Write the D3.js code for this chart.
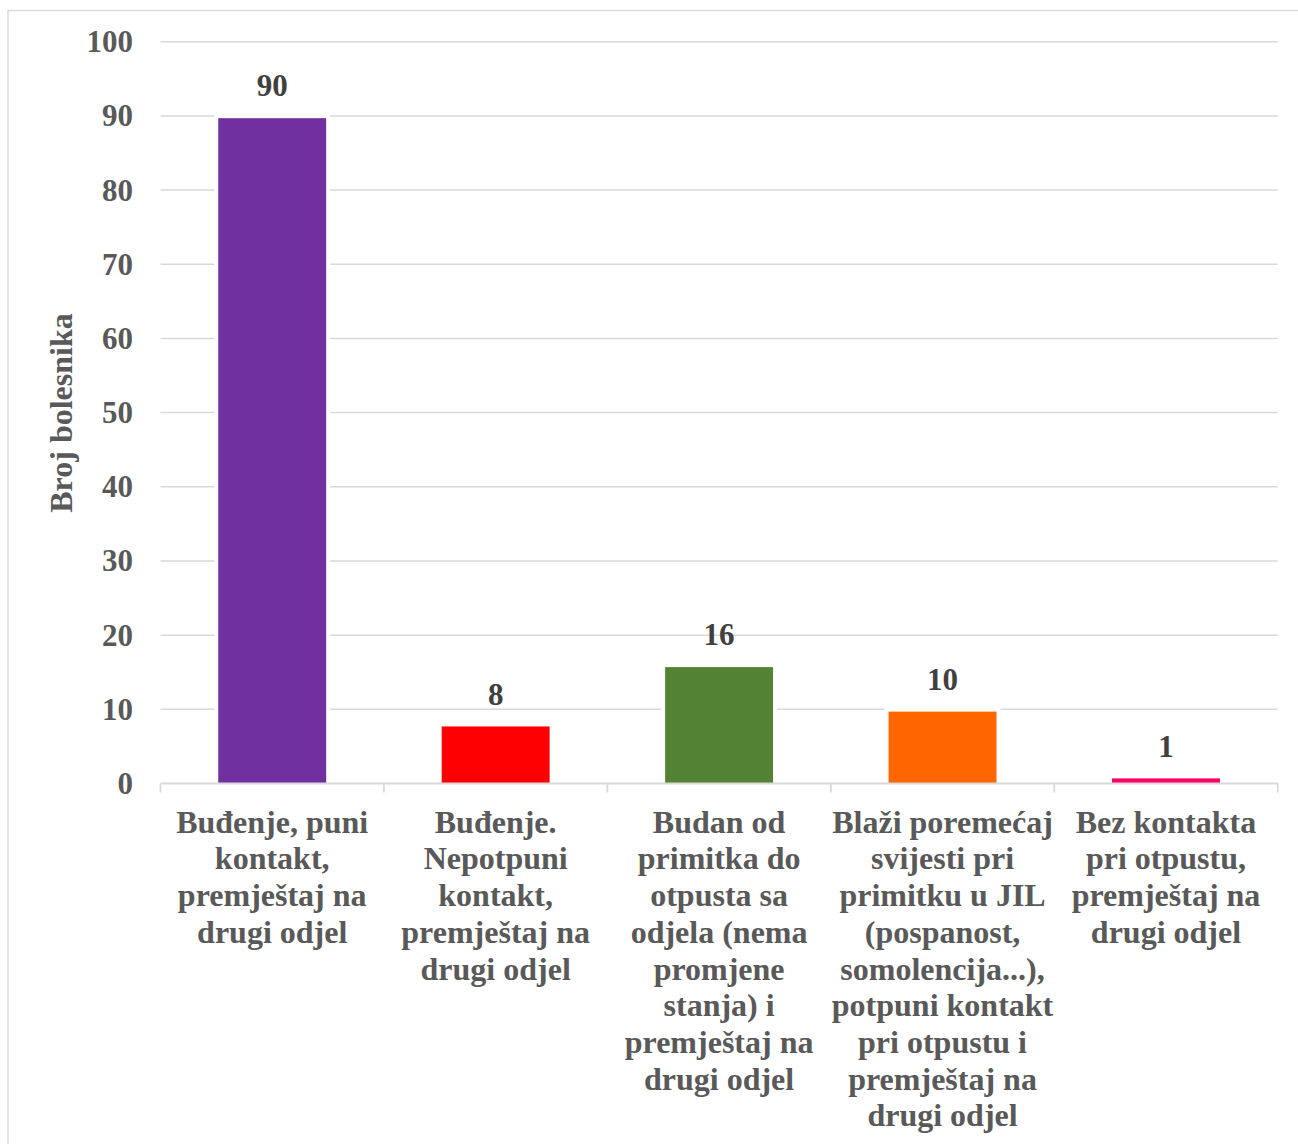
<!DOCTYPE html>
<html>
<head>
<meta charset="utf-8">
<script src="https://cdn.jsdelivr.net/npm/d3@7"></script>
<style>
  html, body { margin: 0; padding: 0; background: #fff; }
  svg { display: block; }
  text { font-family: "Liberation Serif", "Times New Roman", serif; font-weight: bold; }
</style>
</head>
<body>
<svg id="chart" width="1298" height="1144"></svg>
<script>
// ── Data ─────────────────────────────────────────────────────────────
const categories = [
  ['Buđenje, puni', 'kontakt,', 'premještaj na', 'drugi odjel'],
  ['Buđenje.', 'Nepotpuni', 'kontakt,', 'premještaj na', 'drugi odjel'],
  ['Budan od', 'primitka do', 'otpusta sa', 'odjela (nema', 'promjene', 'stanja) i', 'premještaj na', 'drugi odjel'],
  ['Blaži poremećaj', 'svijesti pri', 'primitku u JIL', '(pospanost,', 'somolencija...),', 'potpuni kontakt', 'pri otpustu i', 'premještaj na', 'drugi odjel'],
  ['Bez kontakta', 'pri otpustu,', 'premještaj na', 'drugi odjel'],
];
const values = [90, 8, 16, 10, 1];
const barColors = ['#7030a0', '#ff0000', '#548235', '#ff6600', '#ff0066'];
const yTicks = [0, 10, 20, 30, 40, 50, 60, 70, 80, 90, 100];
const yTitle = 'Broj bolesnika';

// ── Layout ───────────────────────────────────────────────────────────
const plot = { left: 160.5, right: 1277.7, top: 41.7, bottom: 783.5 };
const BAR_FRAC = 0.483;
const GRID = '#d9d9d9';
const TEXT = '#595959';
const LABEL = '#404040';

const svg = d3.select('#chart');

// outer frame (runs off the right and bottom edges)
svg.append('rect')
  .attr('x', 8).attr('y', 10.5)
  .attr('width', 1400).attr('height', 1300)
  .attr('fill', 'none').attr('stroke', GRID).attr('stroke-width', 1.4);

const ids = categories.map((c, i) => i);
const x = d3.scaleBand().domain(ids).range([plot.left, plot.right]).padding(0);
const y = d3.scaleLinear().domain([0, 100]).range([plot.bottom, plot.top]);

// ── Gridlines ────────────────────────────────────────────────────────
svg.append('g')
  .selectAll('line')
  .data(yTicks.filter(t => t > 0))
  .join('line')
  .attr('x1', plot.left).attr('x2', plot.right)
  .attr('y1', d => y(d)).attr('y2', d => y(d))
  .attr('stroke', GRID).attr('stroke-width', 1.5);

// ── Y tick labels ────────────────────────────────────────────────────
svg.append('g')
  .selectAll('text')
  .data(yTicks)
  .join('text')
  .attr('x', 133)
  .attr('y', d => y(d) + 10.5)
  .attr('text-anchor', 'end')
  .attr('font-size', '31px')
  .attr('fill', TEXT)
  .text(d => d);

// ── Bars (white halo cuts the gridlines) ─────────────────────────────
const bw = x.bandwidth() * BAR_FRAC;
const bars = svg.append('g')
  .selectAll('g')
  .data(values)
  .join('g');

bars.append('rect')
  .attr('x', (d, i) => x(i) + x.bandwidth() / 2 - bw / 2 - 4)
  .attr('y', d => y(d) - 2.5)
  .attr('width', bw + 8)
  .attr('height', d => y(0) - y(d) + 2.5)
  .attr('fill', '#fff');

bars.append('rect')
  .attr('x', (d, i) => x(i) + x.bandwidth() / 2 - bw / 2)
  .attr('y', d => y(d) + 2.3)
  .attr('width', bw)
  .attr('height', d => Math.max(0, y(0) - y(d) - 2.3))
  .attr('fill', (d, i) => barColors[i]);

// value labels
svg.append('g')
  .selectAll('text')
  .data(values)
  .join('text')
  .attr('x', (d, i) => x(i) + x.bandwidth() / 2)
  .attr('y', d => y(d) - 19.5)
  .attr('text-anchor', 'middle')
  .attr('font-size', '31px')
  .attr('fill', LABEL)
  .text(d => d);

// ── X axis ───────────────────────────────────────────────────────────
const axis = svg.append('g');
axis.append('line')
  .attr('x1', plot.left).attr('x2', plot.right)
  .attr('y1', plot.bottom).attr('y2', plot.bottom)
  .attr('stroke', GRID).attr('stroke-width', 1.8);

axis.selectAll('.tick')
  .data(ids.concat([ids.length]))
  .join('line')
  .attr('class', 'tick')
  .attr('x1', d => d < ids.length ? x(d) : plot.right)
  .attr('x2', d => d < ids.length ? x(d) : plot.right)
  .attr('y1', plot.bottom).attr('y2', plot.bottom + 9)
  .attr('stroke', GRID).attr('stroke-width', 1.8);

// category labels, line breaks as in the source
const catLabel = svg.append('g')
  .selectAll('text')
  .data(categories)
  .join('text')
  .attr('text-anchor', 'middle')
  .attr('font-size', '32px')
  .attr('fill', TEXT);

catLabel.selectAll('tspan')
  .data((lines, i) => lines.map(l => ({ l, i })))
  .join('tspan')
  .attr('x', d => x(d.i) + x.bandwidth() / 2)
  .attr('y', (d, j) => 832.7 + j * 36.7)
  .text(d => d.l);

// ── Y title ──────────────────────────────────────────────────────────
svg.append('text')
  .attr('transform', 'translate(72,413) rotate(-90)')
  .attr('text-anchor', 'middle')
  .attr('font-size', '32px')
  .attr('fill', TEXT)
  .text(yTitle);
</script>
</body>
</html>
